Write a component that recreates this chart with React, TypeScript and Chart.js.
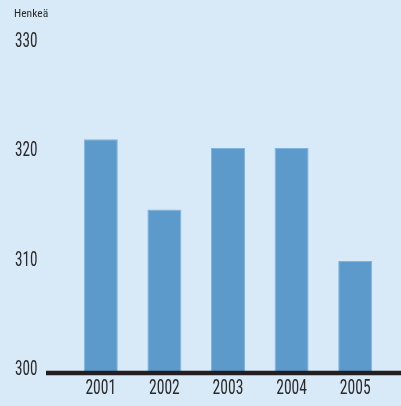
import React, { useEffect, useRef } from "react";
import { Chart, registerables } from "chart.js";

Chart.register(...registerables);

const categories = ["2001", "2002", "2003", "2004", "2005"];
const values = [321.2, 314.8, 320.4, 320.4, 310.1];
const yTicks = [300, 310, 320, 330];
const unitLabel = "Henkeä";

const FONT = "'Roboto Condensed', 'DejaVu Sans Condensed', sans-serif";
const BG = "#d8eaf8";
const TEXT = "#2a2a2a";

export default function App() {
  const ref = useRef<HTMLCanvasElement | null>(null);
  useEffect(() => {
    document.body.style.margin = "0";
    const canvas = ref.current!;
    const drawNarrow = (ctx: any, text: string, x: number, y: number, align: string, size: number, sx: number) => {
      ctx.save();
      ctx.translate(x, y);
      ctx.scale(sx, 1);
      ctx.font = size + "px " + FONT;
      ctx.textAlign = align;
      ctx.textBaseline = "middle";
      ctx.fillStyle = TEXT;
      ctx.fillText(text, 0, 0);
      ctx.restore();
    };
    const overlay = {
      id: "overlay",
      beforeDraw(chart: any) {
        const ctx = chart.ctx;
        ctx.save();
        ctx.fillStyle = BG;
        ctx.fillRect(0, 0, chart.width, chart.height);
        ctx.restore();
      },
      afterDatasetsDraw(chart: any) {
        const ctx = chart.ctx;
        const ys = chart.scales.y;
        const xs = chart.scales.x;
        const base = ys.getPixelForValue(yTicks[0]);
        ctx.save();
        ctx.strokeStyle = "#231f20";
        ctx.lineWidth = 4.5;
        ctx.beginPath();
        ctx.moveTo(46, base + 1.5);
        ctx.lineTo(chart.width, base + 1.5);
        ctx.stroke();
        ctx.restore();
        yTicks.forEach((v) => {
          drawNarrow(ctx, String(v), 37.5, ys.getPixelForValue(v) - 1, "right", 19.5, 0.78);
        });
        categories.forEach((c, i) => {
          drawNarrow(ctx, c, xs.getPixelForValue(i), base + 17.5, "center", 19.5, 0.8);
        });
        drawNarrow(ctx, unitLabel, 14, 14.5, "left", 11, 1.05);
      },
    };
    const chart = new Chart(canvas, {
      type: "bar",
      data: {
        labels: categories,
        datasets: [
          {
            data: values,
            backgroundColor: "#5b9acb",
            borderColor: "#80b4e0",
            borderWidth: 1,
            categoryPercentage: 1,
            barPercentage: 0.535,
          },
        ],
      },
      options: {
        animation: false,
        responsive: false,
        devicePixelRatio: 1,
        layout: { padding: { left: 69, right: 14, top: 43, bottom: 34.5 } },
        plugins: { legend: { display: false }, tooltip: { enabled: false } },
        scales: {
          x: { display: false },
          y: { display: false, min: 300, max: 330 },
        },
      },
      plugins: [overlay],
    });
    return () => chart.destroy();
  }, []);
  return (
    <div style={{ width: 401, height: 406, background: BG }}>
      <canvas ref={ref} width={401} height={406} style={{ display: "block" }} />
    </div>
  );
}
